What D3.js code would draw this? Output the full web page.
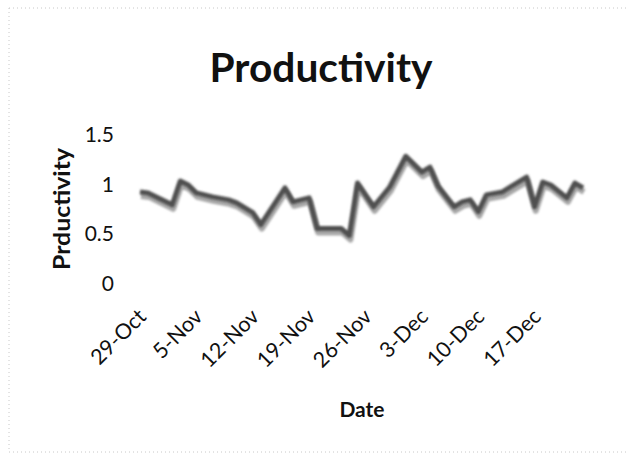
<!DOCTYPE html>
<html>
<head>
<meta charset="utf-8">
<script src="https://cdn.jsdelivr.net/npm/d3@7/dist/d3.min.js"></script>
<style>
  html, body { margin: 0; padding: 0; background: #fff; }
  svg { display: block; }
  text { font-family: Lato, "Open Sans", sans-serif; fill: #111; }
</style>
</head>
<body>
<svg id="chart" width="626" height="459"></svg>
<script>
// Daily productivity readings (day offset from 29 Oct, value)
const dayOffsets = [0, 1, 4, 5, 6, 7, 9, 11, 12, 14, 15, 18, 19, 21, 22, 23, 24, 25, 26, 27, 28, 29, 31, 33, 35, 36, 37, 39, 40, 41, 42, 43, 45, 46, 48, 49, 50, 51, 53, 54, 55];
const productivity = [0.92, 0.91, 0.79, 1.03, 0.99, 0.91, 0.87, 0.84, 0.81, 0.71, 0.59, 0.96, 0.82, 0.86, 0.55, 0.55, 0.55, 0.55, 0.48, 1.01, 0.89, 0.77, 0.97, 1.28, 1.12, 1.17, 0.98, 0.77, 0.82, 0.84, 0.72, 0.89, 0.92, 0.97, 1.07, 0.77, 1.02, 0.99, 0.86, 1.01, 0.96];
const yTicks = [0, 0.5, 1, 1.5];
const xTickLabels = ["29-Oct", "5-Nov", "12-Nov", "19-Nov", "26-Nov", "3-Dec", "10-Dec", "17-Dec"];

const startDate = new Date(2013, 9, 29);
const dates = dayOffsets.map(d => d3.timeDay.offset(startDate, d));
const data = dates.map((d, i) => ({ date: d, value: productivity[i] }));
const xTickDates = xTickLabels.map((_, i) => d3.timeDay.offset(startDate, i * 7));

const svg = d3.select("#chart");

// faint dotted frame
const frame = svg.append("g").attr("stroke", "#c8c8c8").attr("stroke-width", 1)
  .attr("stroke-dasharray", "1,3").attr("fill", "none");
frame.append("line").attr("x1", 9).attr("y1", 8).attr("x2", 626).attr("y2", 8);
frame.append("line").attr("x1", 9).attr("y1", 8).attr("x2", 9).attr("y2", 452);
frame.append("line").attr("x1", 9).attr("y1", 452).attr("x2", 626).attr("y2", 452);

const x = d3.scaleTime()
  .domain([startDate, d3.timeDay.offset(startDate, 55)])
  .range([140, 583]);
const y = d3.scaleLinear().domain([0, 1.5]).range([283, 134.5]);

// y axis (labels only)
const yAxis = d3.axisLeft(y).tickValues(yTicks).tickSize(0).tickPadding(0)
  .tickFormat(d3.format("~g"));
const gy = svg.append("g").attr("transform", "translate(114,0)").call(yAxis);
gy.select(".domain").remove();
gy.selectAll("text").attr("font-size", 21).attr("dy", "0.35em")
  .style("font-family", "Lato, sans-serif").attr("fill", "#222");

// x axis (rotated labels only)
const xAxis = d3.axisBottom(x).tickValues(xTickDates).tickSize(0)
  .tickFormat((d, i) => xTickLabels[i]);
const gx = svg.append("g").attr("transform", "translate(0,300)").call(xAxis);
gx.select(".domain").remove();
gx.selectAll("text")
  .attr("font-size", 21.5)
  .style("font-family", "Lato, sans-serif")
  .attr("text-anchor", "end")
  .attr("dy", 0)
  .attr("y", 0)
  .attr("transform", "translate(7,18) rotate(-45)")
  .attr("fill", "#222");

// line with soft drop shadow
const line = d3.line().x(d => x(d.date)).y(d => y(d.value));
const defs = svg.append("defs");
defs.append("filter").attr("id", "soft").attr("x", "-5%").attr("y", "-20%")
  .attr("width", "110%").attr("height", "140%")
  .append("feGaussianBlur").attr("stdDeviation", 1.1);

svg.append("path").datum(data)
  .attr("d", line)
  .attr("transform", "translate(1,4)")
  .attr("fill", "none").attr("stroke", "#a8a8a8").attr("stroke-width", 6)
  .attr("stroke-linejoin", "round").attr("filter", "url(#soft)");
svg.append("path").datum(data)
  .attr("d", line)
  .attr("fill", "none").attr("stroke", "#505050").attr("stroke-width", 5)
  .attr("stroke-linejoin", "round").attr("filter", "url(#soft)");

// titles
svg.append("text").attr("x", 321).attr("y", 82).attr("text-anchor", "middle")
  .attr("font-size", 40).attr("font-weight", "bold")
  .attr("textLength", 223).attr("lengthAdjust", "spacingAndGlyphs")
  .text("Productivity");

svg.append("text")
  .attr("transform", "translate(70,209) rotate(-90)")
  .attr("text-anchor", "middle").attr("font-size", 22).attr("font-weight", "bold")
  .attr("textLength", 122).attr("lengthAdjust", "spacingAndGlyphs")
  .text("Prductivity");

svg.append("text").attr("x", 362).attr("y", 417).attr("text-anchor", "middle")
  .attr("font-size", 21).attr("font-weight", "bold")
  .text("Date");
</script>
</body>
</html>
